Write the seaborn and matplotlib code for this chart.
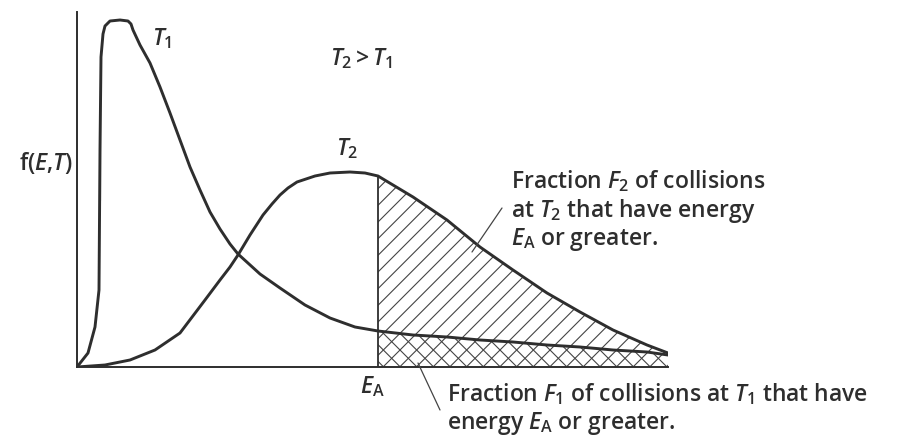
import matplotlib
matplotlib.use("Agg")
import matplotlib.pyplot as plt
import seaborn as sns
import pandas as pd

# Energy (arbitrary units) and distribution values f(E, T)
energy_t1 = [0.0, 1.1, 1.8, 2.2, 2.3, 2.3, 2.4, 2.6, 2.8, 3.3, 4.3, 5.1, 5.4, 5.6, 6.3,
             7.3, 8.3, 9.3, 10.3, 11.3, 12.3, 13.3, 14.3, 15.3, 16.1, 18.3, 20.3,
             22.8, 25.3, 27.8]
f_t1 = [0.0, 0.14, 0.40, 0.77, 1.67, 2.67, 3.10, 3.33, 3.41, 3.46, 3.47, 3.46, 3.43, 3.37,
        3.22, 3.04, 2.80, 2.54, 2.27, 2.00, 1.77, 1.55, 1.38, 1.23, 1.13, 0.93, 0.79,
        0.62, 0.49, 0.40]

energy_t2 = [0.0, 2.8, 5.3, 7.8, 10.3, 12.8, 14.3, 15.3, 16.1, 17.3, 18.6, 19.5,
             20.3, 21.1, 22.0, 23.8, 25.3, 27.3, 28.8]
f_t2 = [0.0, 0.02, 0.07, 0.17, 0.34, 0.67, 0.87, 1.00, 1.12, 1.32, 1.52, 1.63,
        1.72, 1.79, 1.85, 1.91, 1.94, 1.95, 1.94]

# High-energy tail (E >= E_A), shared energy grid for both temperatures
energy_tail = [30.1, 33.6, 37.0, 40.3, 43.6, 47.0, 50.3, 53.6, 57.0, 59.1]
f_t1_tail = [0.36, 0.32, 0.30, 0.27, 0.25, 0.22, 0.20, 0.17, 0.15, 0.12]
f_t2_tail = [1.91, 1.70, 1.47, 1.20, 0.97, 0.74, 0.55, 0.37, 0.22, 0.14]

E_A = energy_tail[0]

sns.set_style("white")
plt.rcParams["font.family"] = ["Open Sans", "DejaVu Sans"]
plt.rcParams["font.weight"] = 600
plt.rcParams["mathtext.fontset"] = "custom"
plt.rcParams["mathtext.rm"] = "Open Sans:semibold"
plt.rcParams["mathtext.it"] = "Open Sans:italic:semibold"
plt.rcParams["mathtext.bf"] = "Open Sans:bold"
plt.rcParams["hatch.linewidth"] = 0.8

INK = "#2e2e2e"
W, H = 904, 441
fig = plt.figure(figsize=(W / 100, H / 100), dpi=100, facecolor="white")

# axes box: left spine at x=77 px, x-axis at y=367 px
left, right, top, bottom = 77, 668, 12, 367
ax = fig.add_axes([left / W, 1 - bottom / H, (right - left) / W, (bottom - top) / H])
ax.set_facecolor("white")

t1 = pd.DataFrame({"E": energy_t1 + energy_tail, "f": f_t1 + f_t1_tail})
t2 = pd.DataFrame({"E": energy_t2 + energy_tail, "f": f_t2 + f_t2_tail})

# shaded fractions beyond the activation energy
ax.fill_between(energy_tail, 0, f_t2_tail, facecolor="none", edgecolor="#444444",
                hatch="//", linewidth=0)
ax.fill_between(energy_tail, 0, f_t1_tail, facecolor="none", edgecolor="#444444",
                hatch="\\\\", linewidth=0)

sns.lineplot(data=t1, x="E", y="f", sort=False, color=INK, linewidth=2.1, ax=ax)
sns.lineplot(data=t2, x="E", y="f", sort=False, color=INK, linewidth=2.1, ax=ax)
ax.vlines(E_A, 0, f_t2_tail[0], color=INK, linewidth=1.3)

ax.set_xlim(0, 59.1)
ax.set_ylim(0, 3.55)
ax.set_xticks([])
ax.set_yticks([])
ax.set_xlabel("")
ax.set_ylabel("")
for side in ("top", "right"):
    ax.spines[side].set_visible(False)
for side in ("left", "bottom"):
    ax.spines[side].set_color(INK)
    ax.spines[side].set_linewidth(1.4)


def put(x, y, s, size=16.5, ha="left", va="baseline"):
    fig.text(x / W, 1 - y / H, s, fontsize=size, color=INK, ha=ha, va=va)


def leader(x0, y0, x1, y1):
    fig.add_artist(plt.Line2D([x0 / W, x1 / W], [1 - y0 / H, 1 - y1 / H],
                              color="#444444", linewidth=0.9))


put(73, 163, r"f($E$,$T$)", ha="right", va="center")
put(152, 45, r"$T_1$", size=16.5)
put(330, 65, r"$T_2 > T_1$", size=16.5)
put(336, 155, r"$T_2$", size=16.5)

put(511, 188, r"Fraction $F_2$ of collisions")
put(511, 217, r"at $T_2$ that have energy")
put(511, 245, r"$E_\mathrm{A}$ or greater.")
leader(472, 252, 502, 208)

put(360, 393, r"$E_\mathrm{A}$")
put(447, 401, r"Fraction $F_1$ of collisions at $T_1$ that have")
put(447, 429, r"energy $E_\mathrm{A}$ or greater.")
leader(418, 363, 440, 410)

fig.savefig("out.png", dpi=100, facecolor="white")
